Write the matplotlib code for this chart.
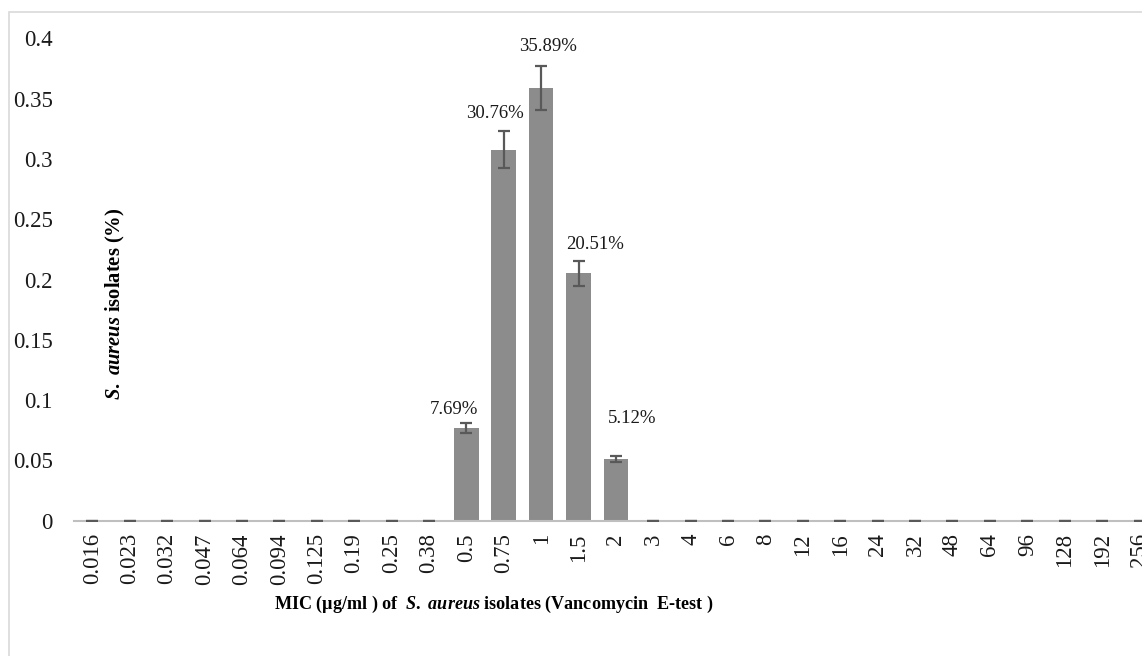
import matplotlib
matplotlib.use("Agg")
from matplotlib import pyplot as plt
from matplotlib.patches import Rectangle

# MIC categories (ug/ml) and fraction of isolates
mic = ["0.016", "0.023", "0.032", "0.047", "0.064", "0.094", "0.125", "0.19",
       "0.25", "0.38", "0.5", "0.75", "1", "1.5", "2", "3", "4", "6", "8",
       "12", "16", "24", "32", "48", "64", "96", "128", "192", "256"]
frac = [0, 0, 0, 0, 0, 0, 0, 0, 0, 0,
        0.0769, 0.3076, 0.3589, 0.2051, 0.0512,
        0, 0, 0, 0, 0, 0, 0, 0, 0, 0, 0, 0, 0, 0]
err = [0, 0, 0, 0, 0, 0, 0, 0, 0, 0,
       0.0038, 0.0154, 0.0179, 0.0103, 0.0026,
       0, 0, 0, 0, 0, 0, 0, 0, 0, 0, 0, 0, 0, 0]
labels = {10: "7.69%", 11: "30.76%", 12: "35.89%", 13: "20.51%", 14: "5.12%"}
# label centre offsets (points) from bar top, as placed in the original
lab_off = {10: (-8.6, 13), 11: (-6.5, 26), 12: (5, 30), 13: (12, 21), 14: (11.5, 29.5)}

plt.rcParams["font.family"] = ["Liberation Serif", "DejaVu Serif"]
plt.rcParams["mathtext.fontset"] = "custom"
plt.rcParams["mathtext.it"] = "Liberation Serif:italic:bold"
plt.rcParams["mathtext.rm"] = "Liberation Serif:bold"

W, H = 1142, 656
fig = plt.figure(figsize=(W / 100, H / 100), dpi=100)
# light frame around the chart area (cut at right/bottom like the source)
fig.patches.append(Rectangle((8.5 / W, -0.1), 1.2, (H - 12) / H + 0.1,
                             transform=fig.transFigure, fill=False,
                             edgecolor="#d9d9d9", lw=1.2))

x0, x1 = 73.6, 73.6 + 29 * 37.4
y0, y1 = H - 520.7, H - 38.5
ax = fig.add_axes([x0 / W, y0 / H, (x1 - x0) / W, (y1 - y0) / H])
ax.patch.set_alpha(0)

xs = list(range(len(mic)))
ax.bar(xs, frac, width=0.655, color="#8c8c8c", zorder=2)
ax.errorbar(xs, frac, yerr=err, fmt="none", ecolor="#595959",
            elinewidth=1.6, capsize=4.3, capthick=1.6, zorder=3)
for i, txt in labels.items():
    ax.annotate(txt, (i, frac[i]), xytext=lab_off[i], textcoords="offset points",
                ha="center", va="center", fontsize=13.5, color="#1a1a1a")

ax.set_xlim(-0.5, len(mic) - 0.5)
ax.set_ylim(0, 0.4)
ax.set_yticks([0, 0.05, 0.1, 0.15, 0.2, 0.25, 0.3, 0.35, 0.4])
ax.set_yticklabels(["0", "0.05", "0.1", "0.15", "0.2", "0.25", "0.3", "0.35", "0.4"])
ax.set_xticks(xs)
ax.set_xticklabels(mic, rotation=90)
ax.tick_params(axis="both", length=0, labelsize=16.5, colors="#1a1a1a")
ax.tick_params(axis="x", pad=9)
ax.tick_params(axis="y", pad=15)
for s in ("top", "right", "left"):
    ax.spines[s].set_visible(False)
ax.spines["bottom"].set_color("#bfbfbf")
ax.spines["bottom"].set_linewidth(1.5)

fig.text(115 / W, 1 - 304 / H, r"$\it{S.\ aureus}$ isolates (%)",
         rotation=90, ha="center", va="center", fontsize=14.8,
         fontweight="bold")
fig.text(494 / W, 1 - 604 / H,
         r"MIC (µg/ml ) of  $\it{S.\ aureus}$ isolates (Vancomycin  E-test )",
         ha="center", va="center", fontsize=13.1, fontweight="bold")

fig.savefig("out.png", dpi=100)
